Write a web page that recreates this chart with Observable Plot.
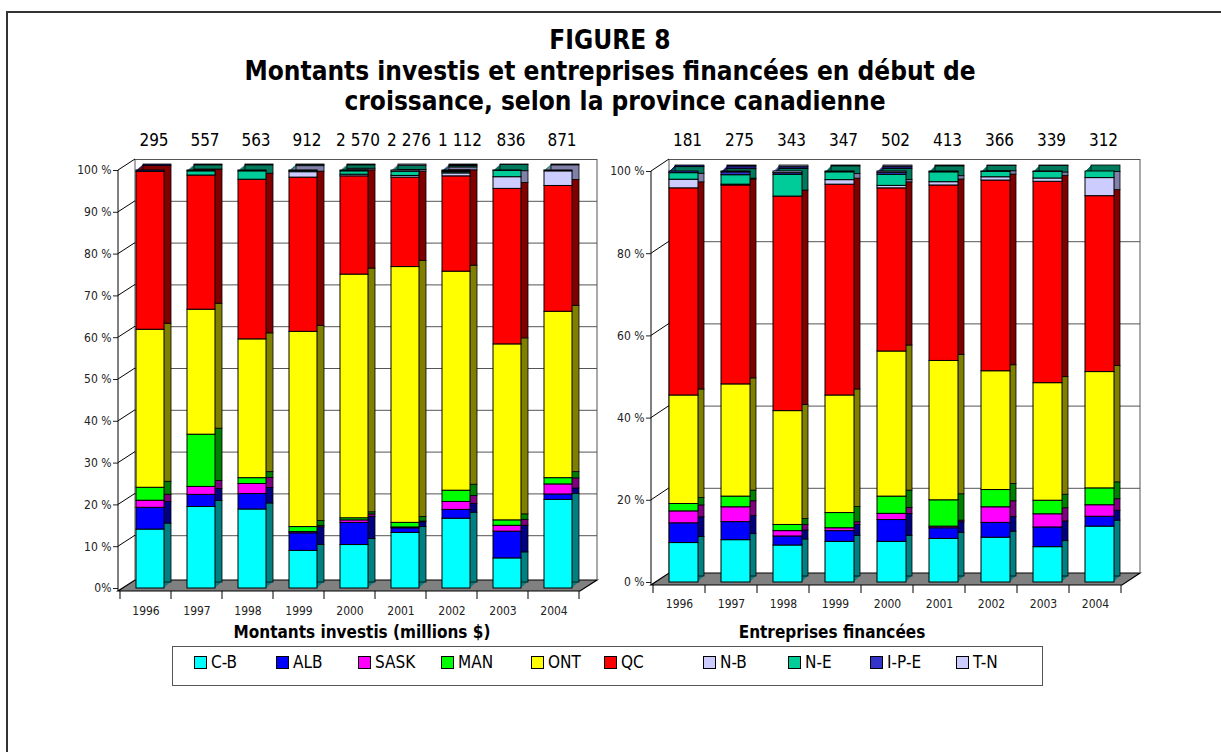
<!DOCTYPE html>
<html><head><meta charset="utf-8">
<script src="https://cdn.jsdelivr.net/npm/d3@7"></script>
<script src="https://cdn.jsdelivr.net/npm/@observablehq/plot@0.6"></script>
<style>
:root{--f:"Liberation Sans Narrow","Arial Narrow","DejaVu Sans Condensed","Roboto Condensed","Liberation Sans",sans-serif;}
body{margin:0;background:#fff;width:1221px;height:752px;overflow:hidden;position:relative;font-family:var(--f);color:#000;}
#frame{position:absolute;left:6px;top:11px;width:1240px;height:780px;border-left:2px solid #333;border-top:2px solid #333;}
.t{position:absolute;white-space:nowrap;font-weight:bold;font-size:26px;line-height:30px;transform:translateX(-50%);}
.ax{position:absolute;white-space:nowrap;font-weight:bold;font-size:17px;transform:translateX(-50%);}
.chart{position:absolute;top:120px;}
#legend{position:absolute;left:172px;top:646px;width:869px;height:38px;border:1px solid #555;}
.li{position:absolute;top:7px;font-size:17px;line-height:17px;white-space:nowrap;}
.sw{display:inline-block;width:11px;height:11px;border:1px solid #000;margin-right:4px;vertical-align:-1px;}
</style></head>
<body>
<div id="frame"></div>
<div class="t" style="left:610px;top:25px">FIGURE 8</div>
<div class="t" style="left:610px;top:56px">Montants investis et entreprises financées en début de</div>
<div class="t" style="left:615px;top:86px">croissance, selon la province canadienne</div>
<div id="left" class="chart" style="left:0px"></div>
<div id="right" class="chart" style="left:560px"></div>
<div class="ax" style="left:362px;top:622px">Montants investis (millions $)</div>
<div class="ax" style="left:832px;top:622px">Entreprises financées</div>
<div id="legend"></div>
<script>
// ---- data ----
const years = ["1996","1997","1998","1999","2000","2001","2002","2003","2004"];
const provinces = ["C-B","ALB","SASK","MAN","ONT","QC","N-B","N-E","I-P-E","T-N"];
const frontColors = ["#00FFFF","#0000FF","#FF00FF","#00FF00","#FFFF00","#FF0000","#CCCCFF","#00CC99","#3333CC","#CCCCFF"];
const sideColors  = ["#008080","#000080","#800080","#008000","#808000","#800000","#8080A8","#007A5C","#1E1E80","#8888B0"];
const legendX = [193,275,357,440,530,603,702,787,869,955];

const montantsTotals = ["295","557","563","912","2 570","2 276","1 112","836","871"];
const entreprisesTotals = ["181","275","343","347","502","413","366","339","312"];
const leftTicks = [0,10,20,30,40,50,60,70,80,90,100];
const rightTicks = [0,20,40,60,80,100];

// Montants investis — share (%) by province, 1996..2004
const montantsCB   = [14.1,19.5,18.9, 9.0,10.4,13.3,16.7, 7.2,21.2];
const montantsALB  = [ 5.2, 2.9, 3.7, 4.2, 5.3, 1.1, 2.1, 6.4, 1.3];
const montantsSASK = [ 1.7, 1.9, 2.4, 0.3, 0.6, 0.2, 1.9, 1.4, 2.4];
const montantsMAN  = [ 3.1,12.5, 1.4, 1.2, 0.5, 1.1, 2.7, 1.3, 1.5];
const montantsONT  = [37.8,29.9,33.2,46.7,58.3,61.2,52.4,42.1,39.8];
const montantsQC   = [37.8,32.1,38.2,36.9,23.5,21.4,22.8,37.2,30.1];
const montantsNB   = [ 0.0, 0.0, 0.0, 1.3, 0.4, 0.4, 0.7, 2.8, 3.5];
const montantsNE   = [ 0.0, 1.0, 2.0, 0.3, 0.8, 1.0, 0.3, 1.5, 0.2];
const montantsIPE  = [ 0.3, 0.0, 0.0, 0.0, 0.0, 0.0, 0.2, 0.0, 0.0];
const montantsTN   = [ 0.0, 0.2, 0.2, 0.1, 0.2, 0.3, 0.2, 0.1, 0.0];

// Entreprises financées — share (%) by province, 1996..2004
const entreprisesCB   = [ 9.6,10.3, 9.0, 9.9, 9.9,10.6,10.9, 8.6,13.6];
const entreprisesALB  = [ 4.8, 4.4, 2.2, 2.6, 5.3, 2.6, 3.6, 4.8, 2.4];
const entreprisesSASK = [ 2.9, 3.6, 1.3, 0.7, 1.5, 0.4, 3.8, 3.2, 2.8];
const entreprisesMAN  = [ 1.8, 2.6, 1.5, 3.7, 4.2, 6.4, 4.2, 3.3, 4.1];
const entreprisesONT  = [26.4,27.3,27.7,28.6,35.3,33.9,28.9,28.6,28.3];
const entreprisesQC   = [50.4,48.4,52.2,51.3,39.7,42.7,46.4,49.0,42.8];
const entreprisesNB   = [ 2.1, 0.2, 0.0, 1.1, 0.6, 0.8, 0.8, 0.8, 4.4];
const entreprisesNE   = [ 1.6, 2.3, 5.3, 1.9, 2.7, 2.4, 1.3, 1.6, 1.6];
const entreprisesIPE  = [ 0.4, 0.7, 0.4, 0.0, 0.5, 0.0, 0.0, 0.0, 0.0];
const entreprisesTN   = [ 0.0, 0.2, 0.4, 0.2, 0.3, 0.2, 0.1, 0.1, 0.0];

const montantsSeries = [montantsCB,montantsALB,montantsSASK,montantsMAN,montantsONT,montantsQC,montantsNB,montantsNE,montantsIPE,montantsTN];
const entreprisesSeries = [entreprisesCB,entreprisesALB,entreprisesSASK,entreprisesMAN,entreprisesONT,entreprisesQC,entreprisesNB,entreprisesNE,entreprisesIPE,entreprisesTN];

const FONT = getComputedStyle(document.body).fontFamily;

function tidy(series) {
  const rows = [];
  provinces.forEach((p, j) => series[j].forEach((v, i) => {
    if (v > 0) rows.push({year: years[i], province: p, value: v, front: frontColors[j], side: sideColors[j]});
  }));
  return rows;
}

function decor(cfg) {
  return function(...args) {
    const scales = args.find(a => a && typeof a.y === "function");
    const dims = args.find(a => a && typeof a.marginLeft === "number");
    const x = scales.x, y = scales.y;
    const x0 = dims.marginLeft, x1 = dims.width - dims.marginRight;
    const y0 = y(0), yT = y(100), ex = cfg.wallDx, ey = cfg.wallDy, fd = 3;
    const g = d3.create("svg:g").attr("fill", "none").attr("stroke", "#000");
    g.append("path")
      .attr("d", `M${x0},${y0+fd}L${x1},${y0+fd}L${x1+ex},${y0+fd+ey}L${x0+ex},${y0+fd+ey}Z`)
      .attr("fill", "#808080").attr("stroke-width", 1.2);
    g.append("line").attr("x1", x0+ex).attr("x2", x0+ex).attr("y1", yT+ey).attr("y2", y0+fd+ey).attr("stroke", "#555");
    g.append("line").attr("x1", x1+ex).attr("x2", x1+ex).attr("y1", yT+ey).attr("y2", y0+fd+ey).attr("stroke", "#555");
    cfg.ticks.filter(t => t > 0).forEach(t => {
      g.append("line").attr("x1", x0).attr("y1", y(t)).attr("x2", x0+ex).attr("y2", y(t)+ey);
    });
    g.append("line").attr("x1", x0).attr("x2", x0).attr("y1", yT).attr("y2", y0+fd);
    const bw = x.bandwidth();
    years.map(d => x(d)).concat([x(years[years.length-1]) + bw]).forEach(px => {
      g.append("line").attr("x1", px).attr("x2", px).attr("y1", y0+fd).attr("y2", y0+fd+8);
    });
    return g.node();
  };
}

function chart(cfg) {
  const data = tidy(cfg.series);
  const common = {x: "year", y: "value", z: "province", insetLeft: cfg.insetLeft, insetRight: cfg.insetRight};
  const marks = [
    decor(cfg),
    Plot.ruleY(cfg.ticks.filter(t => t > 0), {dx: cfg.wallDx, dy: cfg.wallDy, stroke: "#555", strokeWidth: 1})
  ];
  for (let k = 1; k < cfg.depth; k++) {
    marks.push(Plot.barY(data, {...common, fill: "side", dx: k, dy: -k * cfg.depthY / cfg.depth}));
  }
  marks.push(Plot.barY(data, {...common, fill: "side", dx: cfg.depth, dy: -cfg.depthY, stroke: "#000", strokeWidth: 0.8}));
  marks.push(Plot.barY(data, {...common, fill: "front", stroke: "#000", strokeWidth: 1}));
  marks.push(Plot.text(years, {x: d => d, text: (d, i) => cfg.totals[i], frameAnchor: "top", dy: cfg.totalDy, dx: 8, fontSize: 17, fill: "#000"}));
  return Plot.plot({
    width: cfg.width, height: cfg.height,
    marginLeft: cfg.ml, marginRight: cfg.mr, marginTop: cfg.mt, marginBottom: cfg.mb,
    x: {domain: years, padding: 0, tickSize: 0, tickPadding: cfg.xPad, label: null},
    y: {domain: [0, 100], ticks: cfg.ticks, tickFormat: cfg.fmt, tickSize: 5, tickPadding: 2, label: null},
    color: {type: "identity"},
    style: {fontFamily: FONT, fontSize: "12px", color: "#222", background: "transparent", overflow: "visible"},
    marks
  });
}

document.getElementById("left").append(chart({
  series: montantsSeries, totals: montantsTotals, ticks: leftTicks,
  fmt: d => d === 0 ? "0%" : d + " %",
  width: 610, height: 510, ml: 118, mr: 30, mt: 50, mb: 42,
  insetLeft: 16, insetRight: 7, depth: 7, depthY: 6, wallDx: 17, wallDy: -11,
  totalDy: -37, xPad: 18
}));
document.getElementById("right").append(chart({
  series: entreprisesSeries, totals: entreprisesTotals, ticks: rightTicks,
  fmt: d => d + " %",
  width: 640, height: 510, ml: 91, mr: 78, mt: 51, mb: 48,
  insetLeft: 16, insetRight: 7, depth: 6, depthY: 6, wallDx: 18, wallDy: -12,
  totalDy: -38, xPad: 17
}));

const legend = document.getElementById("legend");
provinces.forEach((p, j) => {
  const item = document.createElement("div");
  item.className = "li";
  item.style.left = (legendX[j] - 172) + "px";
  item.innerHTML = `<span class="sw" style="background:${frontColors[j]}"></span>${p}`;
  legend.append(item);
});
</script>
</body></html>
